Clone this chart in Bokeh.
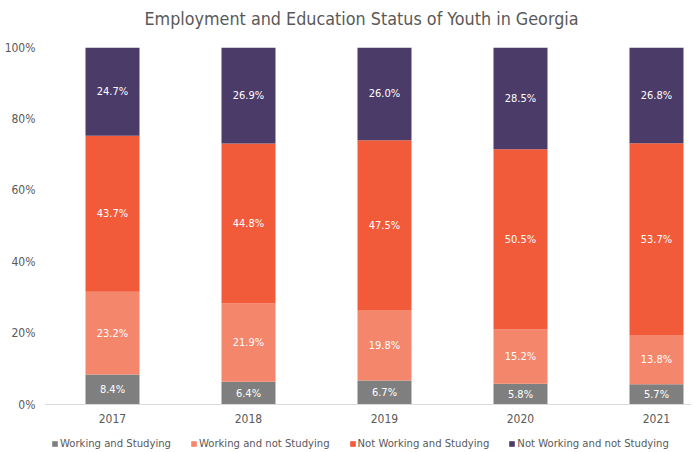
from bokeh.plotting import figure
from bokeh.layouts import column
from bokeh.models import ColumnDataSource, Legend, LegendItem, FixedTicker, Range1d, Label
from bokeh.embed import file_html
from bokeh.resources import INLINE
from bokeh.core.properties import value

title_text = "Employment and Education Status of Youth in Georgia"
years = ["2017", "2018", "2019", "2020", "2021"]
series = ["Working and Studying", "Working and not Studying",
          "Not Working and Studying", "Not Working and not Studying"]
working_studying = [8.4, 6.4, 6.7, 5.8, 5.7]
working_not_studying = [23.2, 21.9, 19.8, 15.2, 13.8]
not_working_studying = [43.7, 44.8, 47.5, 50.5, 53.7]
not_working_not_studying = [24.7, 26.9, 26.0, 28.5, 26.8]
colors = ["#7f7f7f", "#f4866b", "#f15b3a", "#4b3b68"]
y_ticks = [0, 20, 40, 60, 80, 100]

FONT = "DejaVu Sans Condensed"
GRAY = "#595959"

keys = ["ws", "wns", "nws", "nwns"]
vals = [working_studying, working_not_studying, not_working_studying, not_working_not_studying]
data = {"x": list(range(len(years)))}
for k, v in zip(keys, vals):
    data[k] = v
source = ColumnDataSource(data)


def strip(h):
    f = figure(width=694, height=h, output_backend="svg", toolbar_location=None,
               x_range=Range1d(0, 1), y_range=Range1d(0, 1),
               x_axis_location=None, y_axis_location=None,
               min_border_left=0, min_border_right=0, min_border_top=0, min_border_bottom=0)
    f.grid.visible = False
    f.outline_line_color = None
    return f


# title strip
tf = strip(30)
tf.add_layout(Label(x=316, y=12, x_units="screen", y_units="screen", text=title_text,
                    text_align="center", text_baseline="middle", text_font=FONT,
                    text_font_size="17.8px", text_color=GRAY))

p = figure(width=694, height=398, output_backend="svg", toolbar_location=None,
           x_range=Range1d(-0.4926, 4.25), y_range=Range1d(0, 100),
           min_border_left=45, min_border_right=4, min_border_top=17, min_border_bottom=24)

renderers = p.vbar_stack(keys, x="x", width=0.397, color=colors, source=source, line_width=0)

# labels
for i, k in enumerate(keys):
    lo = [0.0] * len(years)
    for j in range(i):
        lo = [a + b for a, b in zip(lo, vals[j])]
    mids = [a + b / 2 for a, b in zip(lo, vals[i])]
    txt = ["%.1f%%" % v for v in vals[i]]
    ls = ColumnDataSource({"x": data["x"], "y": mids, "t": txt})
    p.text(x="x", y="y", text="t", source=ls, text_color="white", text_align="center",
           text_baseline="middle", text_font=value(FONT), text_font_size="11px")

p.xgrid.grid_line_color = None
p.ygrid.grid_line_color = None
p.outline_line_color = None

p.xaxis.ticker = FixedTicker(ticks=list(range(len(years))))
p.xaxis.major_label_overrides = {i: y for i, y in enumerate(years)}
p.xaxis.major_tick_line_color = None
p.xaxis.minor_tick_line_color = None
p.xaxis.axis_line_color = "#d9d9d9"
p.xaxis.major_label_text_font = FONT
p.xaxis.major_label_text_font_size = "12px"
p.xaxis.major_label_text_color = GRAY
p.xaxis.major_label_standoff = 3

p.yaxis.ticker = FixedTicker(ticks=y_ticks)
p.yaxis.major_label_overrides = {t: "%d%%" % t for t in y_ticks}
p.yaxis.major_tick_line_color = None
p.yaxis.minor_tick_line_color = None
p.yaxis.axis_line_color = None
p.yaxis.major_label_text_font = FONT
p.yaxis.major_label_text_font_size = "12px"
p.yaxis.major_label_text_color = GRAY
p.yaxis.major_label_standoff = 4

# legend strip
lf = strip(24)
dummies = [lf.vbar(x=[0.5], top=[0], bottom=[0], width=0.1, fill_color=c, line_color=None)
           for c in colors]
items = [LegendItem(label=s, renderers=[r]) for s, r in zip(series, dummies)]
legend = Legend(items=items, orientation="horizontal", location=(6, 2),
                glyph_width=7, glyph_height=7, label_standoff=2, spacing=19,
                padding=0, margin=0, border_line_color=None, background_fill_alpha=0,
                label_text_font=FONT, label_text_font_size="11.2px", label_text_color=GRAY)
lf.add_layout(legend, "center")

layout = column(tf, p, lf, spacing=0)
open("out.html", "w").write(file_html(layout, INLINE))
